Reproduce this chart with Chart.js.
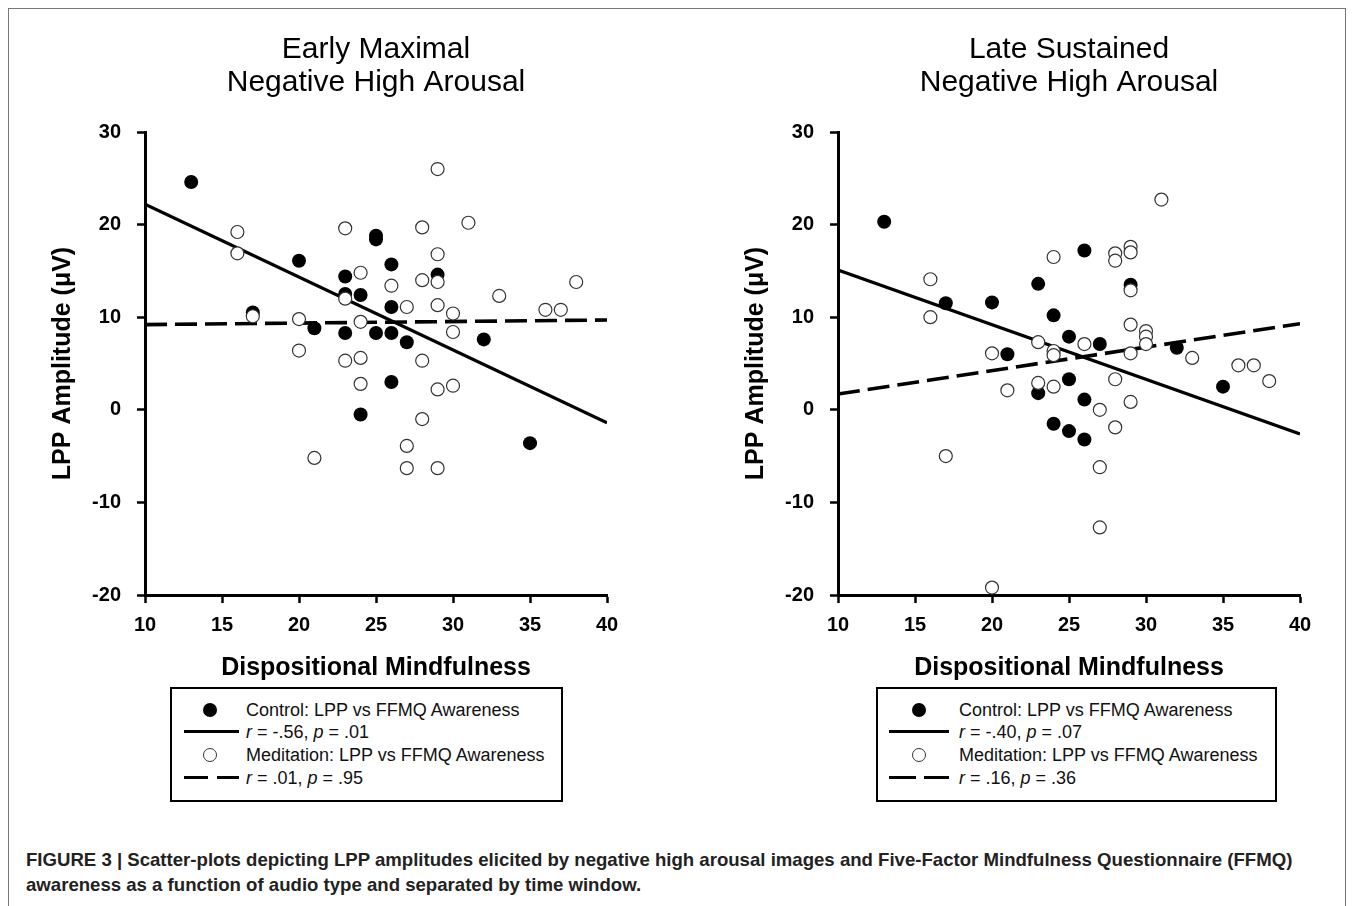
<!DOCTYPE html>
<html lang="en">
<head>
  <meta charset="UTF-8">
  <title>Figure 3</title>
  <script src="https://cdn.jsdelivr.net/npm/chart.js"></script>
  <style>
    body {
      margin: 0;
      width: 1355px;
      height: 906px;
      overflow: hidden;
      background: #fff;
      font-family: Arial, 'Liberation Sans', sans-serif;
      position: relative;
    }

    .frame {
      position: absolute;
      left: 8px;
      top: 8px;
      width: 1338px;
      height: 960px;
      border: 1px solid #777;
      box-sizing: border-box;
    }

    .chart-box {
      position: absolute;
      top: 0;
      width: 693px;
      height: 690px;
    }

    .legend {
      position: absolute;
      top: 687px;
      height: 115px;
      border: 2px solid #000;
      box-sizing: border-box;
      background: #fff;
    }

    .legend .row {
      position: absolute;
      height: 22px;
      line-height: 22px;
      font-size: 18px;
      color: #111;
      white-space: nowrap;
    }

    .dot {
      position: absolute;
      width: 14px;
      height: 14px;
      border-radius: 50%;
      background: #000;
    }

    .ring {
      position: absolute;
      width: 12px;
      height: 12px;
      border-radius: 50%;
      border: 1px solid #333;
      background: #fff;
    }

    .bar {
      position: absolute;
      height: 3px;
      background: #000;
    }

    .caption {
      position: absolute;
      left: 26px;
      top: 847px;
      font-size: 18.6px;
      font-weight: bold;
      line-height: 25px;
      color: #222;
      white-space: nowrap;
    }
  </style>
</head>
<body>

  <div class="frame"></div>

  <div class="chart-box" style="left:0px"><canvas id="earlyChart" width="693" height="690"></canvas></div>
  <div class="chart-box" style="left:693px"><canvas id="lateChart" width="693" height="690"></canvas></div>

  <!-- left legend -->
  <div class="legend" style="left:170px; width:393px;">
    <span class="dot" style="left:31px; top:14px"></span>
    <div class="row" style="left:74px; top:10px">Control: LPP vs FFMQ Awareness</div>
    <span class="bar" style="left:12px; width:55px; top:41px"></span>
    <div class="row" style="left:74px; top:32px"><i>r</i> = -.56, <i>p</i> = .01</div>
    <span class="ring" style="left:31px; top:59px"></span>
    <div class="row" style="left:74px; top:55px">Meditation: LPP vs FFMQ Awareness</div>
    <span class="bar" style="left:12px; width:24px; top:87px"></span>
    <span class="bar" style="left:45px; width:22px; top:87px"></span>
    <div class="row" style="left:74px; top:78px"><i>r</i> = .01, <i>p</i> = .95</div>
  </div>

  <!-- right legend -->
  <div class="legend" style="left:876px; width:401px;">
    <span class="dot" style="left:34px; top:14px"></span>
    <div class="row" style="left:81px; top:10px">Control: LPP vs FFMQ Awareness</div>
    <span class="bar" style="left:11px; width:60px; top:41px"></span>
    <div class="row" style="left:81px; top:32px"><i>r</i> = -.40, <i>p</i> = .07</div>
    <span class="ring" style="left:34px; top:59px"></span>
    <div class="row" style="left:81px; top:55px">Meditation: LPP vs FFMQ Awareness</div>
    <span class="bar" style="left:11px; width:27px; top:87px"></span>
    <span class="bar" style="left:46px; width:25px; top:87px"></span>
    <div class="row" style="left:81px; top:78px"><i>r</i> = .16, <i>p</i> = .36</div>
  </div>

  <div class="caption">
    FIGURE 3 | Scatter-plots depicting LPP amplitudes elicited by negative high arousal images and Five-Factor Mindfulness Questionnaire (FFMQ)<br>
    awareness as a function of audio type and separated by time window.
  </div>

  <script>
    // x = FFMQ awareness, y = LPP amplitude (uV)
    const earlyControl = [
      [13, 24.6], [17, 10.5], [20, 16.1], [21, 8.8], [23, 14.4], [23, 12.5], [23, 8.3],
      [24, 12.4], [24, -0.5], [25, 18.8], [25, 18.4], [25, 8.3], [26, 15.7], [26, 11.1],
      [26, 8.3], [26, 3.0], [27, 7.3], [29, 14.6], [32, 7.6], [35, -3.6]
    ];
    const earlyMeditation = [
      [16, 19.2], [16, 16.9], [17, 10.1], [20, 9.8], [20, 6.4], [21, -5.2], [23, 19.6],
      [23, 12.0], [23, 5.3], [24, 14.8], [24, 9.5], [24, 5.6], [24, 2.8], [26, 13.4],
      [27, 11.1], [27, -3.9], [27, -6.3], [28, 19.7], [28, 14.0], [28, 5.3], [28, -1.0],
      [29, 26.0], [29, 16.8], [29, 13.8], [29, 11.3], [29, 2.2], [29, -6.3], [30, 10.4],
      [30, 8.4], [30, 2.6], [31, 20.2], [33, 12.3], [36, 10.8], [37, 10.8], [38, 13.8]
    ];
    const lateControl = [
      [13, 20.3], [17, 11.5], [20, 11.6], [21, 6.0], [23, 13.6], [23, 1.8], [24, 10.2],
      [24, -1.5], [25, 7.9], [25, 3.3], [25, -2.3], [26, 17.2], [26, 1.1], [26, -3.2],
      [27, 7.1], [29, 13.5], [32, 6.7], [35, 2.5]
    ];
    const lateMeditation = [
      [16, 14.1], [16, 10.0], [17, -5.0], [20, 6.1], [20, -19.2], [21, 2.1], [23, 7.3],
      [23, 2.9], [24, 16.5], [24, 6.35], [24, 5.9], [24, 2.5], [26, 7.1], [27, 0.0],
      [27, -6.2], [27, -12.7], [28, 16.9], [28, 16.1], [28, 3.3], [28, -1.9], [29, 17.6],
      [29, 17.0], [29, 12.9], [29, 9.2], [29, 6.1], [29, 0.85], [30, 8.5], [30, 7.9],
      [30, 7.1], [31, 22.7], [33, 5.6], [36, 4.8], [37, 4.8], [38, 3.1]
    ];

    // fit lines, values at the ends of the x range
    const fitX = [10, 40];
    const earlyControlFit = [22.2, -1.4];
    const earlyMeditationFit = [9.2, 9.7];
    const lateControlFit = [15.1, -2.6];
    const lateMeditationFit = [1.7, 9.3];

    const xTicks = [10, 15, 20, 25, 30, 35, 40];
    const yTicks = [-20, -10, 0, 10, 20, 30];

    Chart.defaults.font.family = "Arial, 'Liberation Sans', sans-serif";
    Chart.defaults.color = '#000';

    function toPoints(pairs) {
      return pairs.map(p => ({ x: p[0], y: p[1] }));
    }

    function fitPoints(ys) {
      return fitX.map((x, i) => ({ x: x, y: ys[i] }));
    }

    function makeChart(id, title, control, meditation, controlFit, meditationFit) {
      const ctx = document.getElementById(id).getContext('2d');
      return new Chart(ctx, {
        type: 'scatter',
        data: {
          datasets: [
            {
              label: 'Meditation',
              data: toPoints(meditation),
              pointRadius: 6.5,
              pointBackgroundColor: '#fff',
              pointBorderColor: '#333',
              pointBorderWidth: 1.2,
              order: 0,
              clip: false
            },
            {
              label: 'Control',
              data: toPoints(control),
              pointRadius: 7,
              pointBackgroundColor: '#000',
              pointBorderWidth: 0,
              order: 1,
              clip: false
            },
            {
              label: 'Control fit',
              data: fitPoints(controlFit),
              showLine: true,
              pointRadius: 0,
              borderColor: '#000',
              borderWidth: 3.2,
              order: 2
            },
            {
              label: 'Meditation fit',
              data: fitPoints(meditationFit),
              showLine: true,
              pointRadius: 0,
              borderColor: '#000',
              borderWidth: 3.6,
              borderDash: [22, 8],
              borderCapStyle: 'butt',
              order: 2
            }
          ]
        },
        options: {
          responsive: false,
          animation: false,
          layout: { padding: { left: 0, right: 86, top: 0, bottom: 0 } },
          plugins: {
            legend: { display: false },
            tooltip: { enabled: false },
            title: {
              display: true,
              fullSize: false,
              text: title,
              color: '#000',
              font: { size: 30, weight: 'normal', lineHeight: 1.1 },
              padding: { top: 33, bottom: 33 }
            }
          },
          scales: {
            x: {
              type: 'linear',
              min: 10,
              max: 40,
              afterBuildTicks: s => { s.ticks = xTicks.map(v => ({ value: v })); },
              ticks: { font: { size: 20, weight: 'bold' }, color: '#000', padding: 10 },
              grid: { drawOnChartArea: false, tickLength: 8, tickWidth: 2.5, tickColor: '#000' },
              border: { color: '#000', width: 3 },
              title: {
                display: true,
                text: 'Dispositional Mindfulness',
                color: '#000',
                font: { size: 25, weight: 'bold', lineHeight: 1.2 },
                padding: { top: 0, bottom: 7 }
              },
              afterFit: s => { s.height = 95; }
            },
            y: {
              type: 'linear',
              min: -20,
              max: 30,
              afterBuildTicks: s => { s.ticks = yTicks.map(v => ({ value: v })); },
              ticks: { font: { size: 20, weight: 'bold' }, color: '#000', padding: 16 },
              grid: { drawOnChartArea: false, tickLength: 8, tickWidth: 2.5, tickColor: '#000' },
              border: { color: '#000', width: 3 },
              title: {
                display: true,
                text: 'LPP Amplitude (\u03BCV)',
                color: '#000',
                font: { size: 25, weight: 'bold', lineHeight: 1.2 },
                padding: { top: 48, bottom: 0 }
              },
              afterFit: s => { s.width = 145; }
            }
          }
        }
      });
    }

    makeChart('earlyChart', ['Early Maximal', 'Negative High Arousal'],
      earlyControl, earlyMeditation, earlyControlFit, earlyMeditationFit);
    makeChart('lateChart', ['Late Sustained', 'Negative High Arousal'],
      lateControl, lateMeditation, lateControlFit, lateMeditationFit);
  </script>

</body>
</html>
